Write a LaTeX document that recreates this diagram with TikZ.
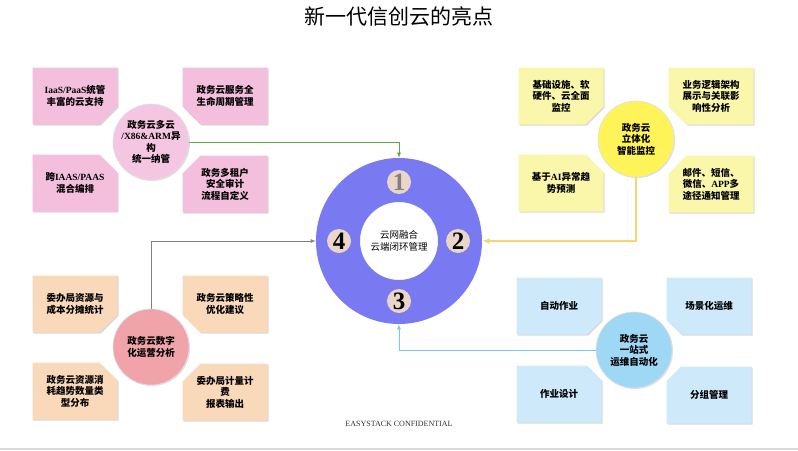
\documentclass[tikz,border=0pt]{standalone}
\usepackage{fontspec}
\setmainfont{Liberation Serif}
\newfontfamily\cjk{Noto Sans CJK SC}
\usepackage{tikz}
\usetikzlibrary{shapes,arrows,positioning,shadows}

\definecolor{ringblue}{RGB}{121,122,242}
\definecolor{numbeige}{RGB}{234,214,200}
\definecolor{pinkbox}{RGB}{243,191,221}
\definecolor{pinkhub}{RGB}{245,198,225}
\definecolor{yellowbox}{RGB}{250,246,170}
\definecolor{yellowhub}{RGB}{255,243,90}
\definecolor{bluebox}{RGB}{205,233,250}
\definecolor{bluehub}{RGB}{158,216,245}
\definecolor{peachbox}{RGB}{250,217,186}
\definecolor{redhub}{RGB}{240,164,169}
\definecolor{greenline}{RGB}{92,170,62}
\definecolor{yellowline}{RGB}{250,212,112}
\definecolor{blueline}{RGB}{120,200,245}

\newcommand{\en}[1]{{\rmfamily\bfseries #1}}

\begin{document}
\begin{tikzpicture}[x=1pt, y=-1pt,
    feat/.style={chamfered rectangle, chamfered rectangle xsep=9pt,
        chamfered rectangle ysep=9pt, minimum width=85pt, minimum height=57pt,
        inner sep=1pt, align=center,
        font=\cjk\bfseries\fontsize{9.5}{11.5}\selectfont,
        drop shadow={shadow xshift=1.2pt, shadow yshift=-1.2pt, opacity=0.3}},
    hub/.style={circle, minimum size=76pt, inner sep=0pt, align=center,
        draw=black!12, line width=0.6pt,
        font=\cjk\bfseries\fontsize{9.5}{11.5}\selectfont,
        drop shadow={shadow xshift=1pt, shadow yshift=-1pt, opacity=0.25}},
    num/.style={circle, fill=numbeige, minimum size=24pt, inner sep=0pt,
        font=\rmfamily\bfseries\fontsize{25}{25}\selectfont},
    link/.style={line width=0.8pt, -latex}]

    \useasboundingbox (0,0) rectangle (798,450);
    \fill[gray!30] (0,447.5) rectangle (798,450);

    \node (title) at (399,16) {\cjk\fontsize{21}{21}\selectfont 新一代信创云的亮点};
    \node[font=\rmfamily\fontsize{8}{8}\selectfont, text=black!80] (footer) at (399,424)
        {EASYSTACK CONFIDENTIAL};

    % central ring
    \fill[ringblue, even odd rule] (399,241) circle[radius=83] (399,241) circle[radius=39];
    \node[circle, minimum size=166pt, inner sep=0pt] (ring) at (399,241) {};
    \node[align=center, font=\cjk\fontsize{9.5}{12.5}\selectfont] (core) at (399,241)
        {云网融合\\云端闭环管理};
    \node[num, text=gray] (n1) at (399,182) {1};
    \node[num] (n2) at (458,241) {2};
    \node[num] (n3) at (399,301) {3};
    \node[num] (n4) at (339,241) {4};

    % multi-cloud
    \node[feat, fill=pinkbox, chamfered rectangle corners=south east] (p1) at (75,96)
        {\en{IaaS/PaaS}统管\\丰富的云支持};
    \node[feat, fill=pinkbox, chamfered rectangle corners=south west] (p2) at (225,96)
        {政务云服务全\\生命周期管理};
    \node[feat, fill=pinkbox, chamfered rectangle corners=north east] (p3) at (75,183)
        {跨\en{IAAS/PAAS}\\混合编排};
    \node[feat, fill=pinkbox, chamfered rectangle corners=north west] (p4) at (225,184)
        {政务多租户\\安全审计\\流程自定义};
    \node[hub, fill=pinkhub] (pc) at (151,142)
        {政务云多云\\\en{/X86\&ARM}异\\构\\统一纳管};

    % monitoring
    \node[feat, fill=yellowbox, chamfered rectangle corners=south east] (y1) at (561,96)
        {基础设施、软\\硬件、云全面\\监控};
    \node[feat, fill=yellowbox, chamfered rectangle corners=south west] (y2) at (711,96)
        {业务逻辑架构\\展示与关联影\\响性分析};
    \node[feat, fill=yellowbox, chamfered rectangle corners=north east] (y3) at (561,183)
        {基于\en{AI}异常趋\\势预测};
    \node[feat, fill=yellowbox, chamfered rectangle corners=north west] (y4) at (711,184)
        {邮件、短信、\\微信、\en{APP}多\\途径通知管理};
    \node[hub, fill=yellowhub] (yc) at (636,139) {政务云\\立体化\\智能监控};

    % automation
    \node[feat, fill=bluebox, chamfered rectangle corners=south east] (b1) at (559,306)
        {自动作业};
    \node[feat, fill=bluebox, chamfered rectangle corners=south west] (b2) at (709,306)
        {场景化运维};
    \node[feat, fill=bluebox, chamfered rectangle corners=north east] (b3) at (559,394)
        {作业设计};
    \node[feat, fill=bluebox, chamfered rectangle corners=north west] (b4) at (709,395)
        {分组管理};
    \node[hub, fill=bluehub] (bc) at (634,350) {政务云\\一站式\\运维自动化};

    % operations
    \node[feat, fill=peachbox, chamfered rectangle corners=south east] (o1) at (75,304)
        {委办局资源与\\成本分摊统计};
    \node[feat, fill=peachbox, chamfered rectangle corners=south west] (o2) at (225,304)
        {政务云策略性\\优化建议};
    \node[feat, fill=peachbox, chamfered rectangle corners=north east] (o3) at (75,391)
        {政务云资源消\\耗趋势数量类\\型分布};
    \node[feat, fill=peachbox, chamfered rectangle corners=north west] (o4) at (225,392)
        {委办局计量计\\费\\报表输出};
    \node[hub, fill=redhub] (oc) at (151,347) {政务云数字\\化运营分析};

    % links into the ring
    \draw[link, greenline] (pc.east) -| (ring.north);
    \draw[link, yellowline, line width=1.5pt] (yc.south) |- (ring.east);
    \draw[link, blueline] (bc.west) -| (ring.south);
    \draw[link, gray] (oc.north) |- (ring.west);
\end{tikzpicture}
\end{document}
